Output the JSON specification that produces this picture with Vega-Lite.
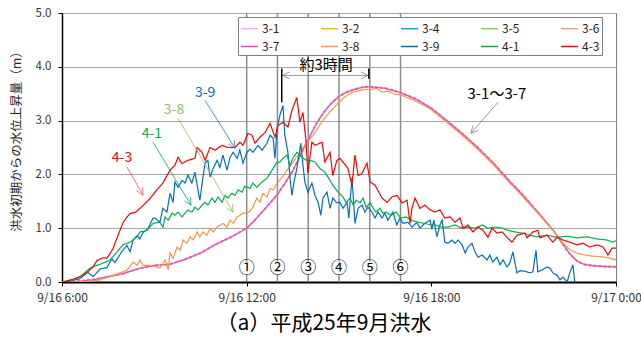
{
"$schema":"https://vega.github.io/schema/vega-lite/v6.json",
"width":554,"height":269,
"autosize":{"type":"none"},
"padding":{"left":62,"top":13,"right":25,"bottom":61},
"background":"white",
"config":{"font":"Noto Sans CJK JP","view":{"stroke":"#7f7f7f","strokeWidth":1},"axis":{"labelFont":"Noto Sans CJK JP","titleFont":"Noto Sans CJK JP"},"legend":{"labelFont":"Noto Sans CJK JP"}},
"title":{"text":"（a）平成25年9月洪水","orient":"bottom","anchor":"middle","fontSize":21,"fontWeight":"normal","font":"Noto Sans CJK JP","color":"#000000","offset":10,"dx":-15},
"datasets":{
"hours":[{"g":"12","t":12,"v":0},{"g":"12","t":12,"v":5},{"g":"13","t":13,"v":0},{"g":"13","t":13,"v":5},{"g":"14","t":14,"v":0},{"g":"14","t":14,"v":5},{"g":"15","t":15,"v":0},{"g":"15","t":15,"v":5},{"g":"16","t":16,"v":0},{"g":"16","t":16,"v":5},{"g":"17","t":17,"v":0},{"g":"17","t":17,"v":5}],
"series":[
{"s":"3-1","t":6,"v":0},{"s":"3-1","t":6.5,"v":0.01},{"s":"3-1","t":7,"v":0.04},{"s":"3-1","t":7.5,"v":0.11},{"s":"3-1","t":8,"v":0.17},{"s":"3-1","t":8.5,"v":0.25},{"s":"3-1","t":9,"v":0.31},{"s":"3-1","t":9.5,"v":0.34},{"s":"3-1","t":10,"v":0.42},{"s":"3-1","t":10.5,"v":0.55},{"s":"3-1","t":11,"v":0.7},{"s":"3-1","t":11.5,"v":0.85},{"s":"3-1","t":12,"v":1.01},{"s":"3-1","t":12.25,"v":1.15},{"s":"3-1","t":12.5,"v":1.31},{"s":"3-1","t":12.75,"v":1.47},{"s":"3-1","t":13,"v":1.64},{"s":"3-1","t":13.25,"v":1.85},{"s":"3-1","t":13.5,"v":2.08},{"s":"3-1","t":13.75,"v":2.37},{"s":"3-1","t":14,"v":2.66},{"s":"3-1","t":14.25,"v":2.94},{"s":"3-1","t":14.5,"v":3.16},{"s":"3-1","t":14.75,"v":3.33},{"s":"3-1","t":15,"v":3.46},{"s":"3-1","t":15.25,"v":3.54},{"s":"3-1","t":15.5,"v":3.59},{"s":"3-1","t":15.75,"v":3.62},{"s":"3-1","t":16,"v":3.63},{"s":"3-1","t":16.5,"v":3.6},{"s":"3-1","t":17,"v":3.52},{"s":"3-1","t":17.5,"v":3.4},{"s":"3-1","t":18,"v":3.24},{"s":"3-1","t":18.5,"v":3.01},{"s":"3-1","t":19,"v":2.77},{"s":"3-1","t":19.5,"v":2.51},{"s":"3-1","t":20,"v":2.23},{"s":"3-1","t":20.5,"v":1.91},{"s":"3-1","t":21,"v":1.61},{"s":"3-1","t":21.5,"v":1.28},{"s":"3-1","t":22,"v":0.94},{"s":"3-1","t":22.25,"v":0.73},{"s":"3-1","t":22.5,"v":0.53},{"s":"3-1","t":22.75,"v":0.39},{"s":"3-1","t":23,"v":0.33},{"s":"3-1","t":23.5,"v":0.3},{"s":"3-1","t":24,"v":0.29},
{"s":"3-2","t":6,"v":0},{"s":"3-2","t":6.5,"v":0.01},{"s":"3-2","t":7,"v":0.03},{"s":"3-2","t":7.5,"v":0.09},{"s":"3-2","t":8,"v":0.15},{"s":"3-2","t":8.5,"v":0.24},{"s":"3-2","t":9,"v":0.3},{"s":"3-2","t":9.5,"v":0.33},{"s":"3-2","t":10,"v":0.41},{"s":"3-2","t":10.5,"v":0.53},{"s":"3-2","t":11,"v":0.69},{"s":"3-2","t":11.5,"v":0.83},{"s":"3-2","t":12,"v":0.99},{"s":"3-2","t":12.25,"v":1.13},{"s":"3-2","t":12.5,"v":1.29},{"s":"3-2","t":12.75,"v":1.45},{"s":"3-2","t":13,"v":1.62},{"s":"3-2","t":13.25,"v":1.83},{"s":"3-2","t":13.5,"v":2.06},{"s":"3-2","t":13.75,"v":2.35},{"s":"3-2","t":14,"v":2.64},{"s":"3-2","t":14.25,"v":2.92},{"s":"3-2","t":14.5,"v":3.14},{"s":"3-2","t":14.75,"v":3.31},{"s":"3-2","t":15,"v":3.44},{"s":"3-2","t":15.25,"v":3.52},{"s":"3-2","t":15.5,"v":3.58},{"s":"3-2","t":15.75,"v":3.61},{"s":"3-2","t":16,"v":3.62},{"s":"3-2","t":16.5,"v":3.6},{"s":"3-2","t":17,"v":3.51},{"s":"3-2","t":17.5,"v":3.39},{"s":"3-2","t":18,"v":3.22},{"s":"3-2","t":18.5,"v":2.99},{"s":"3-2","t":19,"v":2.75},{"s":"3-2","t":19.5,"v":2.49},{"s":"3-2","t":20,"v":2.21},{"s":"3-2","t":20.5,"v":1.89},{"s":"3-2","t":21,"v":1.59},{"s":"3-2","t":21.5,"v":1.26},{"s":"3-2","t":22,"v":0.92},{"s":"3-2","t":22.25,"v":0.71},{"s":"3-2","t":22.5,"v":0.51},{"s":"3-2","t":22.75,"v":0.37},{"s":"3-2","t":23,"v":0.31},{"s":"3-2","t":23.5,"v":0.28},{"s":"3-2","t":24,"v":0.27},
{"s":"3-4","t":6,"v":0},{"s":"3-4","t":6.5,"v":0.02},{"s":"3-4","t":7,"v":0.05},{"s":"3-4","t":7.5,"v":0.1},{"s":"3-4","t":8,"v":0.16},{"s":"3-4","t":8.5,"v":0.26},{"s":"3-4","t":9,"v":0.31},{"s":"3-4","t":9.5,"v":0.33},{"s":"3-4","t":10,"v":0.43},{"s":"3-4","t":10.5,"v":0.54},{"s":"3-4","t":11,"v":0.71},{"s":"3-4","t":11.5,"v":0.84},{"s":"3-4","t":12,"v":1.0},{"s":"3-4","t":12.25,"v":1.15},{"s":"3-4","t":12.5,"v":1.3},{"s":"3-4","t":12.75,"v":1.47},{"s":"3-4","t":13,"v":1.63},{"s":"3-4","t":13.25,"v":1.85},{"s":"3-4","t":13.5,"v":2.07},{"s":"3-4","t":13.75,"v":2.37},{"s":"3-4","t":14,"v":2.65},{"s":"3-4","t":14.25,"v":2.94},{"s":"3-4","t":14.5,"v":3.15},{"s":"3-4","t":14.75,"v":3.33},{"s":"3-4","t":15,"v":3.45},{"s":"3-4","t":15.25,"v":3.54},{"s":"3-4","t":15.5,"v":3.58},{"s":"3-4","t":15.75,"v":3.62},{"s":"3-4","t":16,"v":3.63},{"s":"3-4","t":16.5,"v":3.61},{"s":"3-4","t":17,"v":3.52},{"s":"3-4","t":17.5,"v":3.41},{"s":"3-4","t":18,"v":3.23},{"s":"3-4","t":18.5,"v":3.01},{"s":"3-4","t":19,"v":2.76},{"s":"3-4","t":19.5,"v":2.51},{"s":"3-4","t":20,"v":2.22},{"s":"3-4","t":20.5,"v":1.91},{"s":"3-4","t":21,"v":1.6},{"s":"3-4","t":21.5,"v":1.28},{"s":"3-4","t":22,"v":0.93},{"s":"3-4","t":22.25,"v":0.73},{"s":"3-4","t":22.5,"v":0.52},{"s":"3-4","t":22.75,"v":0.39},{"s":"3-4","t":23,"v":0.32},{"s":"3-4","t":23.5,"v":0.3},{"s":"3-4","t":24,"v":0.28},
{"s":"3-5","t":6,"v":0},{"s":"3-5","t":6.5,"v":0.01},{"s":"3-5","t":7,"v":0.04},{"s":"3-5","t":7.5,"v":0.1},{"s":"3-5","t":8,"v":0.16},{"s":"3-5","t":8.5,"v":0.25},{"s":"3-5","t":9,"v":0.3},{"s":"3-5","t":9.5,"v":0.33},{"s":"3-5","t":10,"v":0.42},{"s":"3-5","t":10.5,"v":0.54},{"s":"3-5","t":11,"v":0.7},{"s":"3-5","t":11.5,"v":0.84},{"s":"3-5","t":12,"v":1.01},{"s":"3-5","t":12.25,"v":1.14},{"s":"3-5","t":12.5,"v":1.31},{"s":"3-5","t":12.75,"v":1.46},{"s":"3-5","t":13,"v":1.64},{"s":"3-5","t":13.25,"v":1.84},{"s":"3-5","t":13.5,"v":2.08},{"s":"3-5","t":13.75,"v":2.36},{"s":"3-5","t":14,"v":2.66},{"s":"3-5","t":14.25,"v":2.93},{"s":"3-5","t":14.5,"v":3.16},{"s":"3-5","t":14.75,"v":3.32},{"s":"3-5","t":15,"v":3.46},{"s":"3-5","t":15.25,"v":3.53},{"s":"3-5","t":15.5,"v":3.59},{"s":"3-5","t":15.75,"v":3.62},{"s":"3-5","t":16,"v":3.64},{"s":"3-5","t":16.5,"v":3.6},{"s":"3-5","t":17,"v":3.53},{"s":"3-5","t":17.5,"v":3.4},{"s":"3-5","t":18,"v":3.24},{"s":"3-5","t":18.5,"v":3.0},{"s":"3-5","t":19,"v":2.77},{"s":"3-5","t":19.5,"v":2.5},{"s":"3-5","t":20,"v":2.23},{"s":"3-5","t":20.5,"v":1.9},{"s":"3-5","t":21,"v":1.61},{"s":"3-5","t":21.5,"v":1.27},{"s":"3-5","t":22,"v":0.94},{"s":"3-5","t":22.25,"v":0.72},{"s":"3-5","t":22.5,"v":0.53},{"s":"3-5","t":22.75,"v":0.38},{"s":"3-5","t":23,"v":0.33},{"s":"3-5","t":23.5,"v":0.29},{"s":"3-5","t":24,"v":0.29},
{"s":"3-6","t":6,"v":0},{"s":"3-6","t":6.5,"v":0.01},{"s":"3-6","t":7,"v":0.04},{"s":"3-6","t":7.5,"v":0.1},{"s":"3-6","t":8,"v":0.15},{"s":"3-6","t":8.5,"v":0.25},{"s":"3-6","t":9,"v":0.31},{"s":"3-6","t":9.5,"v":0.32},{"s":"3-6","t":10,"v":0.42},{"s":"3-6","t":10.5,"v":0.53},{"s":"3-6","t":11,"v":0.7},{"s":"3-6","t":11.5,"v":0.83},{"s":"3-6","t":12,"v":1.0},{"s":"3-6","t":12.25,"v":1.14},{"s":"3-6","t":12.5,"v":1.29},{"s":"3-6","t":12.75,"v":1.46},{"s":"3-6","t":13,"v":1.62},{"s":"3-6","t":13.25,"v":1.84},{"s":"3-6","t":13.5,"v":2.06},{"s":"3-6","t":13.75,"v":2.36},{"s":"3-6","t":14,"v":2.64},{"s":"3-6","t":14.25,"v":2.93},{"s":"3-6","t":14.5,"v":3.14},{"s":"3-6","t":14.75,"v":3.32},{"s":"3-6","t":15,"v":3.44},{"s":"3-6","t":15.25,"v":3.53},{"s":"3-6","t":15.5,"v":3.57},{"s":"3-6","t":15.75,"v":3.62},{"s":"3-6","t":16,"v":3.62},{"s":"3-6","t":16.5,"v":3.6},{"s":"3-6","t":17,"v":3.51},{"s":"3-6","t":17.5,"v":3.4},{"s":"3-6","t":18,"v":3.22},{"s":"3-6","t":18.5,"v":3.0},{"s":"3-6","t":19,"v":2.75},{"s":"3-6","t":19.5,"v":2.5},{"s":"3-6","t":20,"v":2.21},{"s":"3-6","t":20.5,"v":1.9},{"s":"3-6","t":21,"v":1.59},{"s":"3-6","t":21.5,"v":1.27},{"s":"3-6","t":22,"v":0.92},{"s":"3-6","t":22.25,"v":0.72},{"s":"3-6","t":22.5,"v":0.51},{"s":"3-6","t":22.75,"v":0.38},{"s":"3-6","t":23,"v":0.31},{"s":"3-6","t":23.5,"v":0.29},{"s":"3-6","t":24,"v":0.27},
{"s":"3-7","t":6,"v":0},{"s":"3-7","t":6.5,"v":0.01},{"s":"3-7","t":7,"v":0.04},{"s":"3-7","t":7.5,"v":0.1},{"s":"3-7","t":8,"v":0.16},{"s":"3-7","t":8.5,"v":0.25},{"s":"3-7","t":9,"v":0.31},{"s":"3-7","t":9.5,"v":0.33},{"s":"3-7","t":10,"v":0.42},{"s":"3-7","t":10.5,"v":0.54},{"s":"3-7","t":11,"v":0.7},{"s":"3-7","t":11.5,"v":0.84},{"s":"3-7","t":12,"v":1.0},{"s":"3-7","t":12.25,"v":1.14},{"s":"3-7","t":12.5,"v":1.3},{"s":"3-7","t":12.75,"v":1.46},{"s":"3-7","t":13,"v":1.63},{"s":"3-7","t":13.25,"v":1.84},{"s":"3-7","t":13.5,"v":2.07},{"s":"3-7","t":13.75,"v":2.36},{"s":"3-7","t":14,"v":2.65},{"s":"3-7","t":14.25,"v":2.93},{"s":"3-7","t":14.5,"v":3.15},{"s":"3-7","t":14.75,"v":3.32},{"s":"3-7","t":15,"v":3.45},{"s":"3-7","t":15.25,"v":3.53},{"s":"3-7","t":15.5,"v":3.58},{"s":"3-7","t":15.75,"v":3.62},{"s":"3-7","t":16,"v":3.63},{"s":"3-7","t":16.5,"v":3.6},{"s":"3-7","t":17,"v":3.52},{"s":"3-7","t":17.5,"v":3.4},{"s":"3-7","t":18,"v":3.23},{"s":"3-7","t":18.5,"v":3.0},{"s":"3-7","t":19,"v":2.76},{"s":"3-7","t":19.5,"v":2.5},{"s":"3-7","t":20,"v":2.22},{"s":"3-7","t":20.5,"v":1.9},{"s":"3-7","t":21,"v":1.6},{"s":"3-7","t":21.5,"v":1.27},{"s":"3-7","t":22,"v":0.93},{"s":"3-7","t":22.25,"v":0.72},{"s":"3-7","t":22.5,"v":0.52},{"s":"3-7","t":22.75,"v":0.38},{"s":"3-7","t":23,"v":0.32},{"s":"3-7","t":23.5,"v":0.29},{"s":"3-7","t":24,"v":0.28},
{"s":"3-8","t":6,"v":0},{"s":"3-8","t":6.5,"v":0},{"s":"3-8","t":7,"v":0.02},{"s":"3-8","t":7.23,"v":0.04},{"s":"3-8","t":7.56,"v":0.1},{"s":"3-8","t":7.88,"v":0.17},{"s":"3-8","t":8.11,"v":0.22},{"s":"3-8","t":8.31,"v":0.37},{"s":"3-8","t":8.44,"v":0.31},{"s":"3-8","t":8.53,"v":0.41},{"s":"3-8","t":8.63,"v":0.31},{"s":"3-8","t":8.86,"v":0.31},{"s":"3-8","t":9.09,"v":0.28},{"s":"3-8","t":9.18,"v":0.26},{"s":"3-8","t":9.35,"v":0.41},{"s":"3-8","t":9.45,"v":0.22},{"s":"3-8","t":9.51,"v":0.54},{"s":"3-8","t":9.61,"v":0.44},{"s":"3-8","t":9.74,"v":0.65},{"s":"3-8","t":9.84,"v":0.59},{"s":"3-8","t":9.93,"v":0.78},{"s":"3-8","t":10.06,"v":0.72},{"s":"3-8","t":10.16,"v":0.84},{"s":"3-8","t":10.26,"v":0.78},{"s":"3-8","t":10.39,"v":0.93},{"s":"3-8","t":10.48,"v":0.84},{"s":"3-8","t":10.58,"v":0.93},{"s":"3-8","t":10.71,"v":0.87},{"s":"3-8","t":10.81,"v":1.0},{"s":"3-8","t":10.91,"v":0.93},{"s":"3-8","t":11.04,"v":1.02},{"s":"3-8","t":11.13,"v":1.06},{"s":"3-8","t":11.23,"v":1.09},{"s":"3-8","t":11.36,"v":1.02},{"s":"3-8","t":11.46,"v":1.15},{"s":"3-8","t":11.56,"v":1.09},{"s":"3-8","t":11.69,"v":1.21},{"s":"3-8","t":11.78,"v":1.24},{"s":"3-8","t":11.88,"v":1.28},{"s":"3-8","t":12.01,"v":1.28},{"s":"3-8","t":12.11,"v":1.32},{"s":"3-8","t":12.2,"v":1.39},{"s":"3-8","t":12.33,"v":1.56},{"s":"3-8","t":12.43,"v":1.48},{"s":"3-8","t":12.53,"v":1.65},{"s":"3-8","t":12.66,"v":1.58},{"s":"3-8","t":12.76,"v":1.74},{"s":"3-8","t":12.86,"v":1.71},{"s":"3-8","t":12.99,"v":1.84},{"s":"3-8","t":13.08,"v":1.9},{"s":"3-8","t":13.18,"v":1.97},{"s":"3-8","t":13.31,"v":2.08},{"s":"3-8","t":13.41,"v":2.15},{"s":"3-8","t":13.5,"v":2.22},{"s":"3-8","t":13.63,"v":2.33},{"s":"3-8","t":13.73,"v":2.38},{"s":"3-8","t":13.83,"v":2.5},{"s":"3-8","t":13.96,"v":2.58},{"s":"3-8","t":14.06,"v":2.66},{"s":"3-8","t":14.15,"v":2.72},{"s":"3-8","t":14.28,"v":2.83},{"s":"3-8","t":14.45,"v":2.98},{"s":"3-8","t":14.61,"v":3.1},{"s":"3-8","t":14.77,"v":3.2},{"s":"3-8","t":14.93,"v":3.3},{"s":"3-8","t":15.1,"v":3.4},{"s":"3-8","t":15.29,"v":3.48},{"s":"3-8","t":15.45,"v":3.53},{"s":"3-8","t":15.6,"v":3.55},{"s":"3-8","t":15.8,"v":3.58},{"s":"3-8","t":16,"v":3.57},{"s":"3-8","t":16.2,"v":3.6},{"s":"3-8","t":16.4,"v":3.53},{"s":"3-8","t":16.6,"v":3.55},{"s":"3-8","t":16.8,"v":3.49},{"s":"3-8","t":17,"v":3.48},{"s":"3-8","t":17.2,"v":3.43},{"s":"3-8","t":17.44,"v":3.38},{"s":"3-8","t":17.76,"v":3.28},{"s":"3-8","t":18,"v":3.2},{"s":"3-8","t":18.5,"v":2.97},{"s":"3-8","t":19,"v":2.73},{"s":"3-8","t":19.5,"v":2.47},{"s":"3-8","t":20,"v":2.19},{"s":"3-8","t":20.5,"v":1.87},{"s":"3-8","t":21,"v":1.57},{"s":"3-8","t":21.5,"v":1.25},{"s":"3-8","t":22,"v":0.93},{"s":"3-8","t":22.25,"v":0.74},{"s":"3-8","t":22.5,"v":0.6},{"s":"3-8","t":22.75,"v":0.53},{"s":"3-8","t":23,"v":0.5},{"s":"3-8","t":23.25,"v":0.48},{"s":"3-8","t":23.5,"v":0.47},{"s":"3-8","t":23.75,"v":0.45},{"s":"3-8","t":24,"v":0.41},
{"s":"3-9","t":6,"v":0},{"s":"3-9","t":6.3,"v":0.02},{"s":"3-9","t":6.58,"v":0.06},{"s":"3-9","t":6.84,"v":0.18},{"s":"3-9","t":7.01,"v":0.1},{"s":"3-9","t":7.23,"v":0.24},{"s":"3-9","t":7.46,"v":0.27},{"s":"3-9","t":7.62,"v":0.43},{"s":"3-9","t":7.72,"v":0.36},{"s":"3-9","t":7.95,"v":0.57},{"s":"3-9","t":8.11,"v":0.68},{"s":"3-9","t":8.21,"v":0.56},{"s":"3-9","t":8.31,"v":0.78},{"s":"3-9","t":8.44,"v":0.86},{"s":"3-9","t":8.53,"v":0.8},{"s":"3-9","t":8.63,"v":0.92},{"s":"3-9","t":8.79,"v":0.99},{"s":"3-9","t":8.96,"v":1.19},{"s":"3-9","t":9.02,"v":1.19},{"s":"3-9","t":9.18,"v":1.11},{"s":"3-9","t":9.28,"v":1.37},{"s":"3-9","t":9.41,"v":1.3},{"s":"3-9","t":9.51,"v":1.65},{"s":"3-9","t":9.61,"v":1.48},{"s":"3-9","t":9.67,"v":1.86},{"s":"3-9","t":9.77,"v":1.76},{"s":"3-9","t":9.9,"v":1.89},{"s":"3-9","t":10,"v":1.84},{"s":"3-9","t":10.09,"v":1.99},{"s":"3-9","t":10.22,"v":1.84},{"s":"3-9","t":10.32,"v":2.04},{"s":"3-9","t":10.42,"v":1.71},{"s":"3-9","t":10.48,"v":1.52},{"s":"3-9","t":10.58,"v":1.95},{"s":"3-9","t":10.65,"v":2.21},{"s":"3-9","t":10.74,"v":2.26},{"s":"3-9","t":10.81,"v":1.95},{"s":"3-9","t":10.91,"v":2.11},{"s":"3-9","t":11.04,"v":2.26},{"s":"3-9","t":11.13,"v":2.13},{"s":"3-9","t":11.23,"v":2.36},{"s":"3-9","t":11.36,"v":2.08},{"s":"3-9","t":11.46,"v":2.32},{"s":"3-9","t":11.56,"v":2.41},{"s":"3-9","t":11.69,"v":2.3},{"s":"3-9","t":11.78,"v":2.45},{"s":"3-9","t":11.88,"v":2.21},{"s":"3-9","t":12.01,"v":2.41},{"s":"3-9","t":12.11,"v":2.47},{"s":"3-9","t":12.2,"v":2.41},{"s":"3-9","t":12.37,"v":2.54},{"s":"3-9","t":12.5,"v":2.45},{"s":"3-9","t":12.66,"v":2.58},{"s":"3-9","t":12.76,"v":2.73},{"s":"3-9","t":12.86,"v":2.67},{"s":"3-9","t":12.92,"v":2.3},{"s":"3-9","t":12.99,"v":2.86},{"s":"3-9","t":13.08,"v":3.1},{"s":"3-9","t":13.18,"v":3.28},{"s":"3-9","t":13.24,"v":2.73},{"s":"3-9","t":13.34,"v":2.41},{"s":"3-9","t":13.41,"v":1.93},{"s":"3-9","t":13.47,"v":1.61},{"s":"3-9","t":13.54,"v":1.86},{"s":"3-9","t":13.63,"v":2.11},{"s":"3-9","t":13.7,"v":2.36},{"s":"3-9","t":13.76,"v":2.58},{"s":"3-9","t":13.83,"v":2.17},{"s":"3-9","t":13.89,"v":1.86},{"s":"3-9","t":13.99,"v":1.67},{"s":"3-9","t":14.12,"v":1.84},{"s":"3-9","t":14.22,"v":1.61},{"s":"3-9","t":14.32,"v":1.48},{"s":"3-9","t":14.41,"v":1.24},{"s":"3-9","t":14.48,"v":1.56},{"s":"3-9","t":14.61,"v":1.67},{"s":"3-9","t":14.71,"v":1.37},{"s":"3-9","t":14.8,"v":1.56},{"s":"3-9","t":14.93,"v":1.47},{"s":"3-9","t":15.03,"v":1.48},{"s":"3-9","t":15.13,"v":1.37},{"s":"3-9","t":15.26,"v":1.48},{"s":"3-9","t":15.32,"v":1.19},{"s":"3-9","t":15.42,"v":1.93},{"s":"3-9","t":15.46,"v":1.61},{"s":"3-9","t":15.52,"v":1.09},{"s":"3-9","t":15.62,"v":1.37},{"s":"3-9","t":15.75,"v":1.43},{"s":"3-9","t":15.84,"v":1.3},{"s":"3-9","t":15.94,"v":1.39},{"s":"3-9","t":16.07,"v":1.3},{"s":"3-9","t":16.17,"v":1.19},{"s":"3-9","t":16.27,"v":1.3},{"s":"3-9","t":16.4,"v":1.19},{"s":"3-9","t":16.49,"v":1.28},{"s":"3-9","t":16.59,"v":1.15},{"s":"3-9","t":16.75,"v":1.3},{"s":"3-9","t":16.88,"v":1.06},{"s":"3-9","t":16.98,"v":1.19},{"s":"3-9","t":17.08,"v":1.09},{"s":"3-9","t":17.24,"v":1.11},{"s":"3-9","t":17.37,"v":1.02},{"s":"3-9","t":17.53,"v":1.11},{"s":"3-9","t":17.63,"v":1.0},{"s":"3-9","t":17.79,"v":1.09},{"s":"3-9","t":17.96,"v":1.15},{"s":"3-9","t":18.02,"v":0.98},{"s":"3-9","t":18.08,"v":1.15},{"s":"3-9","t":18.18,"v":0.84},{"s":"3-9","t":18.28,"v":1.06},{"s":"3-9","t":18.35,"v":1.15},{"s":"3-9","t":18.44,"v":0.74},{"s":"3-9","t":18.54,"v":0.72},{"s":"3-9","t":18.67,"v":0.78},{"s":"3-9","t":18.77,"v":0.72},{"s":"3-9","t":18.87,"v":0.78},{"s":"3-9","t":19,"v":0.69},{"s":"3-9","t":19.1,"v":0.54},{"s":"3-9","t":19.19,"v":0.65},{"s":"3-9","t":19.32,"v":0.72},{"s":"3-9","t":19.42,"v":0.56},{"s":"3-9","t":19.52,"v":0.46},{"s":"3-9","t":19.65,"v":0.5},{"s":"3-9","t":19.81,"v":0.41},{"s":"3-9","t":19.9,"v":0.5},{"s":"3-9","t":20,"v":0.37},{"s":"3-9","t":20.13,"v":0.46},{"s":"3-9","t":20.23,"v":0.32},{"s":"3-9","t":20.33,"v":0.41},{"s":"3-9","t":20.46,"v":0.28},{"s":"3-9","t":20.55,"v":0.35},{"s":"3-9","t":20.65,"v":0.56},{"s":"3-9","t":20.78,"v":0.17},{"s":"3-9","t":20.88,"v":0.21},{"s":"3-9","t":21.04,"v":0.2},{"s":"3-9","t":21.2,"v":0.17},{"s":"3-9","t":21.3,"v":0.19},{"s":"3-9","t":21.4,"v":0.59},{"s":"3-9","t":21.46,"v":0.19},{"s":"3-9","t":21.59,"v":0.22},{"s":"3-9","t":21.76,"v":0.28},{"s":"3-9","t":21.85,"v":0.26},{"s":"3-9","t":21.95,"v":0.17},{"s":"3-9","t":22.08,"v":0.13},{"s":"3-9","t":22.18,"v":0.04},{"s":"3-9","t":22.28,"v":0.09},{"s":"3-9","t":22.41,"v":0},{"s":"3-9","t":22.5,"v":0.17},{"s":"3-9","t":22.6,"v":0.32},{"s":"3-9","t":22.66,"v":0},{"s":"3-9","t":22.73,"v":-0.05},{"s":"3-9","t":22.9,"v":-0.2},
{"s":"4-1","t":6,"v":0},{"s":"4-1","t":6.3,"v":0.03},{"s":"4-1","t":6.58,"v":0.09},{"s":"4-1","t":6.91,"v":0.26},{"s":"4-1","t":7.14,"v":0.31},{"s":"4-1","t":7.33,"v":0.35},{"s":"4-1","t":7.56,"v":0.41},{"s":"4-1","t":7.79,"v":0.56},{"s":"4-1","t":7.98,"v":0.69},{"s":"4-1","t":8.21,"v":0.74},{"s":"4-1","t":8.44,"v":0.84},{"s":"4-1","t":8.53,"v":0.93},{"s":"4-1","t":8.76,"v":0.96},{"s":"4-1","t":8.96,"v":1.09},{"s":"4-1","t":9.18,"v":1.11},{"s":"4-1","t":9.28,"v":1.02},{"s":"4-1","t":9.35,"v":1.21},{"s":"4-1","t":9.45,"v":1.15},{"s":"4-1","t":9.58,"v":1.28},{"s":"4-1","t":9.67,"v":1.24},{"s":"4-1","t":9.77,"v":1.3},{"s":"4-1","t":9.9,"v":1.21},{"s":"4-1","t":10,"v":1.28},{"s":"4-1","t":10.09,"v":1.34},{"s":"4-1","t":10.22,"v":1.3},{"s":"4-1","t":10.32,"v":1.39},{"s":"4-1","t":10.42,"v":1.34},{"s":"4-1","t":10.55,"v":1.43},{"s":"4-1","t":10.65,"v":1.48},{"s":"4-1","t":10.74,"v":1.43},{"s":"4-1","t":10.87,"v":1.56},{"s":"4-1","t":10.97,"v":1.48},{"s":"4-1","t":11.07,"v":1.58},{"s":"4-1","t":11.2,"v":1.48},{"s":"4-1","t":11.3,"v":1.61},{"s":"4-1","t":11.39,"v":1.56},{"s":"4-1","t":11.52,"v":1.65},{"s":"4-1","t":11.62,"v":1.61},{"s":"4-1","t":11.72,"v":1.71},{"s":"4-1","t":11.85,"v":1.67},{"s":"4-1","t":11.94,"v":1.78},{"s":"4-1","t":12.11,"v":1.74},{"s":"4-1","t":12.2,"v":1.84},{"s":"4-1","t":12.33,"v":1.76},{"s":"4-1","t":12.5,"v":1.86},{"s":"4-1","t":12.66,"v":1.93},{"s":"4-1","t":12.76,"v":2.02},{"s":"4-1","t":12.86,"v":2.11},{"s":"4-1","t":12.99,"v":2.23},{"s":"4-1","t":13.08,"v":2.23},{"s":"4-1","t":13.18,"v":2.3},{"s":"4-1","t":13.31,"v":2.36},{"s":"4-1","t":13.41,"v":2.17},{"s":"4-1","t":13.5,"v":2.3},{"s":"4-1","t":13.63,"v":2.41},{"s":"4-1","t":13.73,"v":2.36},{"s":"4-1","t":13.83,"v":2.3},{"s":"4-1","t":13.96,"v":2.26},{"s":"4-1","t":14.06,"v":2.26},{"s":"4-1","t":14.22,"v":2.23},{"s":"4-1","t":14.38,"v":2.11},{"s":"4-1","t":14.54,"v":2.04},{"s":"4-1","t":14.71,"v":1.89},{"s":"4-1","t":14.8,"v":1.8},{"s":"4-1","t":14.97,"v":1.67},{"s":"4-1","t":15.13,"v":1.58},{"s":"4-1","t":15.23,"v":1.48},{"s":"4-1","t":15.36,"v":1.56},{"s":"4-1","t":15.46,"v":1.43},{"s":"4-1","t":15.56,"v":1.52},{"s":"4-1","t":15.68,"v":1.47},{"s":"4-1","t":15.78,"v":1.56},{"s":"4-1","t":15.88,"v":1.39},{"s":"4-1","t":16.01,"v":1.47},{"s":"4-1","t":16.11,"v":1.37},{"s":"4-1","t":16.2,"v":1.3},{"s":"4-1","t":16.33,"v":1.37},{"s":"4-1","t":16.43,"v":1.28},{"s":"4-1","t":16.53,"v":1.3},{"s":"4-1","t":16.69,"v":1.24},{"s":"4-1","t":16.85,"v":1.3},{"s":"4-1","t":17.01,"v":1.19},{"s":"4-1","t":17.18,"v":1.21},{"s":"4-1","t":17.34,"v":1.15},{"s":"4-1","t":17.57,"v":1.11},{"s":"4-1","t":17.79,"v":1.09},{"s":"4-1","t":17.99,"v":1.06},{"s":"4-1","t":18.12,"v":1.06},{"s":"4-1","t":18.35,"v":1.02},{"s":"4-1","t":18.54,"v":1.02},{"s":"4-1","t":18.77,"v":1.06},{"s":"4-1","t":19,"v":1.0},{"s":"4-1","t":19.19,"v":1.02},{"s":"4-1","t":19.42,"v":1.0},{"s":"4-1","t":19.65,"v":1.06},{"s":"4-1","t":19.84,"v":1.0},{"s":"4-1","t":20.07,"v":1.02},{"s":"4-1","t":20.3,"v":1.0},{"s":"4-1","t":20.49,"v":0.96},{"s":"4-1","t":20.72,"v":0.93},{"s":"4-1","t":20.94,"v":0.91},{"s":"4-1","t":21.2,"v":0.87},{"s":"4-1","t":21.43,"v":0.84},{"s":"4-1","t":21.76,"v":0.87},{"s":"4-1","t":22.08,"v":0.83},{"s":"4-1","t":22.4,"v":0.85},{"s":"4-1","t":22.73,"v":0.82},{"s":"4-1","t":23.05,"v":0.84},{"s":"4-1","t":23.38,"v":0.8},{"s":"4-1","t":23.71,"v":0.78},{"s":"4-1","t":23.9,"v":0.74},{"s":"4-1","t":24,"v":0.77},
{"s":"4-3","t":6,"v":0},{"s":"4-3","t":6.15,"v":0.02},{"s":"4-3","t":6.4,"v":0.06},{"s":"4-3","t":6.58,"v":0.1},{"s":"4-3","t":6.8,"v":0.17},{"s":"4-3","t":7.01,"v":0.28},{"s":"4-3","t":7.14,"v":0.4},{"s":"4-3","t":7.33,"v":0.45},{"s":"4-3","t":7.46,"v":0.44},{"s":"4-3","t":7.66,"v":0.62},{"s":"4-3","t":7.72,"v":0.72},{"s":"4-3","t":7.98,"v":1.1},{"s":"4-3","t":8.1,"v":1.2},{"s":"4-3","t":8.21,"v":1.27},{"s":"4-3","t":8.4,"v":1.3},{"s":"4-3","t":8.63,"v":1.42},{"s":"4-3","t":8.86,"v":1.55},{"s":"4-3","t":9.09,"v":1.72},{"s":"4-3","t":9.28,"v":1.84},{"s":"4-3","t":9.51,"v":2.08},{"s":"4-3","t":9.67,"v":2.17},{"s":"4-3","t":9.77,"v":2.32},{"s":"4-3","t":9.9,"v":2.2},{"s":"4-3","t":10.09,"v":2.26},{"s":"4-3","t":10.32,"v":2.3},{"s":"4-3","t":10.39,"v":2.5},{"s":"4-3","t":10.55,"v":2.41},{"s":"4-3","t":10.65,"v":2.26},{"s":"4-3","t":10.81,"v":2.5},{"s":"4-3","t":10.97,"v":2.45},{"s":"4-3","t":11.2,"v":2.54},{"s":"4-3","t":11.39,"v":2.5},{"s":"4-3","t":11.62,"v":2.5},{"s":"4-3","t":11.78,"v":2.6},{"s":"4-3","t":11.88,"v":2.54},{"s":"4-3","t":12.04,"v":2.76},{"s":"4-3","t":12.17,"v":2.73},{"s":"4-3","t":12.27,"v":2.58},{"s":"4-3","t":12.43,"v":2.69},{"s":"4-3","t":12.6,"v":2.78},{"s":"4-3","t":12.76,"v":2.95},{"s":"4-3","t":12.92,"v":2.69},{"s":"4-3","t":13.02,"v":2.91},{"s":"4-3","t":13.18,"v":2.97},{"s":"4-3","t":13.34,"v":2.88},{"s":"4-3","t":13.47,"v":3.19},{"s":"4-3","t":13.63,"v":3.43},{"s":"4-3","t":13.73,"v":2.97},{"s":"4-3","t":13.83,"v":3.15},{"s":"4-3","t":13.93,"v":2.6},{"s":"4-3","t":13.99,"v":2.02},{"s":"4-3","t":14.12,"v":2.6},{"s":"4-3","t":14.22,"v":2.54},{"s":"4-3","t":14.45,"v":2.6},{"s":"4-3","t":14.54,"v":2.23},{"s":"4-3","t":14.71,"v":2.41},{"s":"4-3","t":14.8,"v":1.98},{"s":"4-3","t":14.93,"v":2.26},{"s":"4-3","t":15.03,"v":2.3},{"s":"4-3","t":15.13,"v":2.23},{"s":"4-3","t":15.29,"v":2.11},{"s":"4-3","t":15.42,"v":1.8},{"s":"4-3","t":15.52,"v":2.36},{"s":"4-3","t":15.62,"v":1.98},{"s":"4-3","t":15.75,"v":2.02},{"s":"4-3","t":15.91,"v":2.21},{"s":"4-3","t":16.01,"v":1.86},{"s":"4-3","t":16.17,"v":1.8},{"s":"4-3","t":16.4,"v":1.56},{"s":"4-3","t":16.56,"v":1.48},{"s":"4-3","t":16.72,"v":1.58},{"s":"4-3","t":16.88,"v":1.61},{"s":"4-3","t":17.05,"v":1.47},{"s":"4-3","t":17.21,"v":1.52},{"s":"4-3","t":17.31,"v":1.09},{"s":"4-3","t":17.37,"v":1.37},{"s":"4-3","t":17.47,"v":1.56},{"s":"4-3","t":17.63,"v":1.37},{"s":"4-3","t":17.79,"v":1.43},{"s":"4-3","t":17.96,"v":1.34},{"s":"4-3","t":18.12,"v":1.3},{"s":"4-3","t":18.28,"v":1.34},{"s":"4-3","t":18.44,"v":1.19},{"s":"4-3","t":18.61,"v":1.21},{"s":"4-3","t":18.77,"v":1.11},{"s":"4-3","t":18.93,"v":1.19},{"s":"4-3","t":19.03,"v":1.0},{"s":"4-3","t":19.19,"v":1.06},{"s":"4-3","t":19.35,"v":0.93},{"s":"4-3","t":19.52,"v":1.02},{"s":"4-3","t":19.68,"v":0.96},{"s":"4-3","t":19.84,"v":0.83},{"s":"4-3","t":19.97,"v":1.0},{"s":"4-3","t":20.13,"v":0.91},{"s":"4-3","t":20.3,"v":0.93},{"s":"4-3","t":20.46,"v":0.83},{"s":"4-3","t":20.62,"v":0.74},{"s":"4-3","t":20.78,"v":0.87},{"s":"4-3","t":21.04,"v":0.91},{"s":"4-3","t":21.11,"v":0.82},{"s":"4-3","t":21.3,"v":0.93},{"s":"4-3","t":21.46,"v":0.96},{"s":"4-3","t":21.53,"v":0.82},{"s":"4-3","t":21.76,"v":0.87},{"s":"4-3","t":21.95,"v":0.74},{"s":"4-3","t":22.08,"v":0.83},{"s":"4-3","t":22.28,"v":0.78},{"s":"4-3","t":22.5,"v":0.74},{"s":"4-3","t":22.73,"v":0.69},{"s":"4-3","t":22.93,"v":0.72},{"s":"4-3","t":23.15,"v":0.65},{"s":"4-3","t":23.38,"v":0.69},{"s":"4-3","t":23.58,"v":0.65},{"s":"4-3","t":23.74,"v":0.5},{"s":"4-3","t":23.87,"v":0.63},{"s":"4-3","t":24,"v":0.63}
],
"arrows":[
{"g":"a1","k":"3-9","o":1,"t":10.646,"v":3.377},{"g":"a1","k":"3-9","o":2,"t":11.621,"v":2.486},
{"g":"h1","k":"3-9","o":1,"t":11.404,"v":2.562},{"g":"h1","k":"3-9","o":2,"t":11.621,"v":2.486},{"g":"h1","k":"3-9","o":3,"t":11.597,"v":2.631},
{"g":"a2","k":"3-8","o":1,"t":9.769,"v":3.043},{"g":"a2","k":"3-8","o":2,"t":11.556,"v":1.299},
{"g":"h2","k":"3-8","o":1,"t":11.342,"v":1.378},{"g":"h2","k":"3-8","o":2,"t":11.556,"v":1.299},{"g":"h2","k":"3-8","o":3,"t":11.539,"v":1.444},
{"g":"a3","k":"4-1","o":1,"t":8.956,"v":2.597},{"g":"a3","k":"4-1","o":2,"t":10.191,"v":1.429},
{"g":"h3","k":"4-1","o":1,"t":9.976,"v":1.506},{"g":"h3","k":"4-1","o":2,"t":10.191,"v":1.429},{"g":"h3","k":"4-1","o":3,"t":10.171,"v":1.573},
{"g":"a4","k":"4-3","o":1,"t":8.112,"v":2.134},{"g":"a4","k":"4-3","o":2,"t":8.632,"v":1.614},
{"g":"h4","k":"4-3","o":1,"t":8.42,"v":1.695},{"g":"h4","k":"4-3","o":2,"t":8.632,"v":1.614},{"g":"h4","k":"4-3","o":3,"t":8.617,"v":1.759},
{"g":"a5","k":"grey","o":1,"t":20.165,"v":3.34},{"g":"a5","k":"grey","o":2,"t":19.288,"v":2.764},
{"g":"h5","k":"grey","o":1,"t":19.352,"v":2.905},{"g":"h5","k":"grey","o":2,"t":19.288,"v":2.764},{"g":"h5","k":"grey","o":3,"t":19.523,"v":2.82},
{"g":"a6","k":"grey","o":1,"t":13.17,"v":3.84},{"g":"a6","k":"grey","o":2,"t":15.94,"v":3.84},
{"g":"h6","k":"grey","o":1,"t":13.4,"v":3.905},{"g":"h6","k":"grey","o":2,"t":13.17,"v":3.84},{"g":"h6","k":"grey","o":3,"t":13.4,"v":3.775},
{"g":"h7","k":"grey","o":1,"t":15.71,"v":3.905},{"g":"h7","k":"grey","o":2,"t":15.94,"v":3.84},{"g":"h7","k":"grey","o":3,"t":15.71,"v":3.775}
],
"ticks":[{"g":"L","t":13.14,"v":3.34},{"g":"L","t":13.14,"v":3.97},{"g":"R","t":15.97,"v":3.78},{"g":"R","t":15.97,"v":3.97}],
"labels":[{"k":"3-9","label":"3-9","t":10.65,"v":3.51},{"k":"3-8","label":"3-8","t":9.64,"v":3.19},{"k":"4-1","label":"4-1","t":8.92,"v":2.76},{"k":"4-3","label":"4-3","t":7.95,"v":2.3}],
"blabels":[{"label":"3-1～3-7","t":20.13,"v":3.49},{"label":"約3時間","t":14.58,"v":4.03}],
"circ":[{"label":"①","t":12,"v":0.26},{"label":"②","t":13,"v":0.26},{"label":"③","t":14,"v":0.26},{"label":"④","t":15,"v":0.26},{"label":"⑤","t":16,"v":0.26},{"label":"⑥","t":17,"v":0.26}]
},
"encoding":{
 "x":{"field":"t","type":"quantitative","scale":{"domain":[6,24],"nice":false,"zero":false},
  "axis":{"values":[6,12,18,24],"labelExpr":"datum.value == 6 ? '9/16 6:00' : datum.value == 12 ? '9/16 12:00' : datum.value == 18 ? '9/16 18:00' : '9/17 0:00'","title":null,"grid":false,"domainColor":"#000000","domainWidth":2,"tickColor":"#000000","tickSize":4,"labelFontSize":12,"labelPadding":6,"labelColor":"#333333","labelFlush":false,"labelOverlap":false,"labelBound":false}},
 "y":{"field":"v","type":"quantitative","scale":{"domain":[0,5],"nice":false,"zero":false},
  "axis":{"values":[0,1,2,3,4,5],"format":".1f","title":"洪水初期からの水位上昇量（m）","titleFontSize":12.5,"titleFontWeight":"normal","titleColor":"#262626","titleX":-39,"titleY":125,"grid":true,"gridColor":"#a6a6a6","domainColor":"#000000","domainWidth":1.5,"tickColor":"#000000","tickSize":4,"labelPadding":7,"labelFontSize":11.5,"labelColor":"#333333"}}
},
"layer":[
{"data":{"name":"hours"},"mark":{"type":"line","color":"#8c8c8c","strokeWidth":1.5},
 "encoding":{"detail":{"field":"g"}}},
{"data":{"name":"series"},"mark":{"type":"line","clip":true},
 "encoding":{
  "color":{"field":"s","type":"nominal","scale":{"domain":["3-1","3-2","3-4","3-5","3-6","3-7","3-8","3-9","4-1","4-3"],"range":["#ffa6ff","#ffc000","#00b0f0","#92d050","#ff9999","#ff3dcc","#f79646","#0070c0","#00b050","#ff0000"]},
   "legend":{"title":null,"orient":"none","legendX":176,"legendY":4,"columns":5,"direction":"horizontal","symbolType":"stroke","symbolSize":289,"symbolStrokeWidth":1.5,"labelFontSize":12,"labelOffset":3,"labelColor":"#262626","columnPadding":38,"rowPadding":2,"padding":2,"fillColor":"#ffffff","strokeColor":"#808080"}},
  "strokeDash":{"field":"s","type":"nominal","scale":{"domain":["3-1","3-2","3-4","3-5","3-6","3-7","3-8","3-9","4-1","4-3"],"range":[[3,2],[3,2],[3,2],[3,2],[3,2],[1,0],[1,0],[1,0],[1,0],[1,0]]}},
  "strokeWidth":{"field":"s","type":"nominal","scale":{"domain":["3-1","3-2","3-4","3-5","3-6","3-7","3-8","3-9","4-1","4-3"],"range":[1.2,1.2,1.2,1.2,1.2,2,1.5,1.5,1.5,1.5]},"legend":null},
  "order":{"field":"t","type":"quantitative"}
 }},
{"data":{"name":"arrows"},"mark":{"type":"line","strokeWidth":0.8},
 "encoding":{
  "detail":{"field":"g"},"order":{"field":"o","type":"quantitative"},
  "color":{"field":"k","type":"nominal","scale":{"domain":["3-9","3-8","4-1","4-3","grey"],"range":["#2e75b6","#9bbb59","#00b050","#ff5050","#7f7f7f"]},"legend":null}
 }},
{"data":{"name":"ticks"},"mark":{"type":"line","strokeWidth":1.5,"color":"#000000"},
 "encoding":{"detail":{"field":"g"}}},
{"data":{"name":"labels"},"mark":{"type":"text","fontSize":14,"align":"center","baseline":"middle"},
 "encoding":{
  "text":{"field":"label"},
  "color":{"field":"k","type":"nominal","scale":{"domain":["3-9","3-8","4-1","4-3"],"range":["#0070c0","#8fbf5a","#00b050","#ff0000"]},"legend":null}
 }},
{"data":{"name":"blabels"},"mark":{"type":"text","fontSize":15,"align":"center","baseline":"middle","color":"#000000"},
 "encoding":{"text":{"field":"label"}}},
{"data":{"name":"circ"},"mark":{"type":"point","filled":true,"color":"#ffffff","opacity":1,"size":170},
 "encoding":{}},
{"data":{"name":"circ"},"mark":{"type":"text","fontSize":16,"align":"center","baseline":"middle","color":"#000000"},
 "encoding":{"text":{"field":"label"}}}
],
"resolve":{"scale":{"color":"independent"}}
}
